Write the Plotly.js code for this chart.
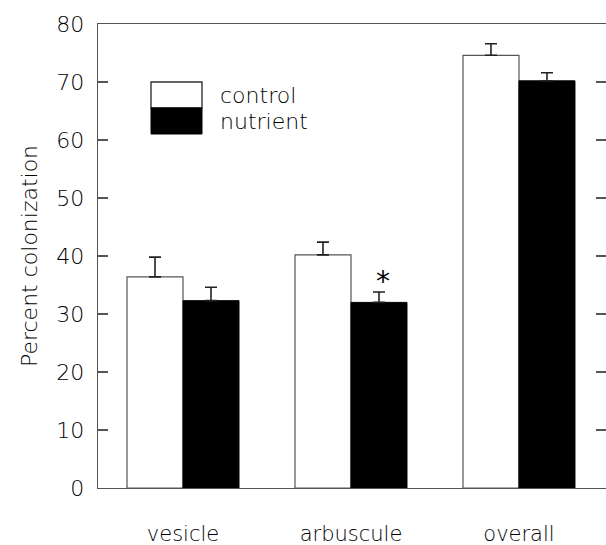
<!DOCTYPE html>
<html>
<head>
<meta charset="utf-8">
<script src="https://cdn.plot.ly/plotly-3.0.1.min.js"></script>
<style>html,body{margin:0;padding:0;background:#fff;}#chart{width:606px;height:545px;}</style>
</head>
<body>
<div id="chart"></div>
<script>
const categories = ["vesicle", "arbuscule", "overall"];
const controlValues = [36.4, 40.2, 74.6];
const controlErrors = [3.4, 2.2, 2.0];
const nutrientValues = [32.3, 32.0, 70.2];
const nutrientErrors = [2.3, 1.8, 1.4];
const seriesNames = ["control", "nutrient"];
const yTicks = [0, 10, 20, 30, 40, 50, 60, 70, 80];

const FONT = "'DejaVu Sans', sans-serif";
const W = 200;
const TXT = "#000000";

const zeros = categories.map(() => 0);
const traces = [
  {
    type: "bar", name: seriesNames[0], x: categories, y: controlValues,
    marker: {color: "#ffffff", line: {color: "#555555", width: 1.2}},
    error_y: {type: "data", symmetric: false, array: controlErrors, arrayminus: zeros,
              color: "#222222", thickness: 1.6, width: 6},
    showlegend: false
  },
  {
    type: "bar", name: seriesNames[1], x: categories, y: nutrientValues,
    marker: {color: "#000000", line: {color: "#000000", width: 1}},
    error_y: {type: "data", symmetric: false, array: nutrientErrors, arrayminus: zeros,
              color: "#222222", thickness: 1.6, width: 6},
    showlegend: false
  }
];

const layout = {
  width: 606, height: 545,
  margin: {l: 98, r: 0, t: 24, b: 57},
  paper_bgcolor: "#ffffff", plot_bgcolor: "#ffffff",
  font: {family: FONT, size: 20, color: TXT, weight: W},
  barmode: "group", bargap: 1/3, bargroupgap: 0,
  xaxis: {
    type: "category", range: [-0.506, 2.518],
    showline: true, linecolor: "#555555", linewidth: 1.4, mirror: true,
    ticks: "", showgrid: false, zeroline: false,
    tickfont: {family: FONT, size: 21, color: TXT, weight: W},
    ticklabelstandoff: 26
  },
  yaxis: {
    range: [0, 80], tickvals: yTicks, ticktext: yTicks.map(String),
    showline: true, linecolor: "#555555", linewidth: 1.4, mirror: "ticks",
    ticks: "inside", ticklen: 10, tickwidth: 1.4, tickcolor: "#555555",
    showgrid: false, zeroline: false,
    tickfont: {family: FONT, size: 22, color: TXT, weight: W},
    ticklabelstandoff: 8,
    title: {text: "Percent colonization", font: {family: FONT, size: 22, color: TXT, weight: W}, standoff: 12}
  },
  shapes: [
    {type: "rect", xref: "paper", yref: "paper", x0: (151-98)/508, x1: (202-98)/508,
     y0: (488-108)/464, y1: (488-82)/464, fillcolor: "#ffffff", line: {color: "#333333", width: 1.4}},
    {type: "rect", xref: "paper", yref: "paper", x0: (151-98)/508, x1: (202-98)/508,
     y0: (488-134)/464, y1: (488-108)/464, fillcolor: "#000000", line: {color: "#000000", width: 1}}
  ],
  annotations: [
    {xref: "paper", yref: "paper", x: (218-98)/508, y: (488-96)/464, xanchor: "left", yanchor: "middle",
     text: seriesNames[0], showarrow: false, font: {family: FONT, size: 22, color: TXT, weight: W}},
    {xref: "paper", yref: "paper", x: (218-98)/508, y: (488-121)/464, xanchor: "left", yanchor: "middle",
     text: seriesNames[1], showarrow: false, font: {family: FONT, size: 22, color: TXT, weight: W}},
    {xref: "x", yref: "y", x: 1.19, y: 35.6, xanchor: "center", yanchor: "middle",
     text: "*", showarrow: false, font: {family: FONT, size: 28, color: TXT, weight: 400}}
  ]
};

Plotly.newPlot("chart", traces, layout, {staticPlot: true, displayModeBar: false});
</script>
</body>
</html>
